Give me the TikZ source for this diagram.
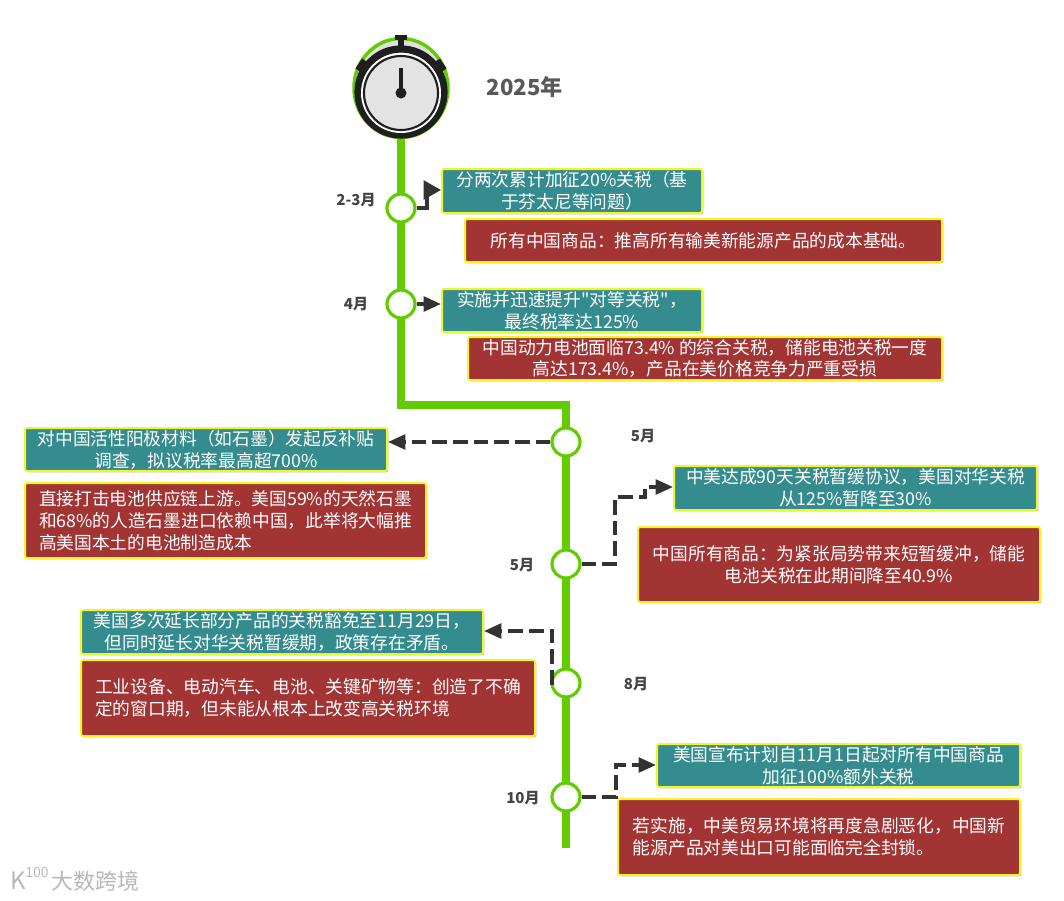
\documentclass[tikz,border=0pt]{standalone}
\usepackage{fontspec}
\setmainfont[Ligatures=TeXReset]{Noto Sans CJK SC}
\usetikzlibrary{arrows.meta,shadows}
\definecolor{tealbox}{HTML}{358C8E}
\definecolor{redbox}{HTML}{A23434}
\definecolor{edgey}{HTML}{F2F52A}
\definecolor{tline}{HTML}{62CC00}
\definecolor{conn}{HTML}{333333}
\definecolor{lbl}{HTML}{444444}
\tikzset{
  x=0.75pt,y=-0.75pt,
  msg/.style={draw=edgey,line width=1.5pt,rounded corners=1.5pt,text=white,align=center,inner sep=0pt,
    font=\fontsize{13.3pt}{16.4pt}\selectfont,drop shadow={shadow xshift=1pt,shadow yshift=-1pt,fill=black,opacity=0.25}},
  tealmsg/.style={msg,fill=tealbox},
  redmsg/.style={msg,fill=redbox},
  track/.style={draw=tline,line width=5.4pt},
  stop/.style={circle,draw=tline,line width=2.4pt,fill=white,minimum size=21pt,inner sep=0pt},
  link/.style={draw=conn,line width=2.6pt,-{Triangle[length=13pt,width=11pt]}},
  dlink/.style={link,dash pattern=on 11pt off 4.5pt},
  month/.style={font=\fontsize{11.3pt}{13pt}\selectfont\bfseries,text=lbl,inner sep=0pt},
}
\begin{document}
\begin{tikzpicture}
\useasboundingbox (0,0) rectangle (1064,900);
\fill[white] (0,0) rectangle (1064,900);
% coordinates
\coordinate (tstart) at (401,135);
\coordinate (tbend1) at (401,405);
\coordinate (tbend2) at (566,405);
\coordinate (tend) at (566,848);
\draw[track,line join=miter] (tstart) -- (tbend1) -- (tbend2) -- (tend);
% watch
\fill[black!12] (401,88) ellipse [x radius=47,y radius=49.5];
\draw[tline,line width=2.6pt] (401,88) ellipse [x radius=47,y radius=49.5];
\fill[black!88] (395,35) rectangle (407,40);
\fill[black!88] (398,40) rectangle (404,46);
\fill[black!88] (394,46) -- (408,46) -- (410,50) -- (392,50) -- cycle;
\fill[black!88,rotate around={-56:(401,92)}] (395,41) rectangle (407,51);
\fill[black!88,rotate around={56:(401,92)}] (395,41) rectangle (407,51);
\draw[black!88,line width=5.4pt] (401,92) circle [radius=43];
\fill[white] (401,93) circle [radius=40];
\draw[black!88,line width=1.6pt,fill=black!11] (401,93) circle [radius=37];
\draw[black!88,line width=3.2pt] (401,68) -- (401,92);
\fill[black!88] (401,93) circle [radius=5.5];
\node[font=\fontsize{16.6pt}{19pt}\selectfont\bfseries,text=black!65,inner sep=0pt] (year) at (525,87) {2025年};
% stops
\node[stop] (s1) at (401,208) {};
\node[stop] (s2) at (401,304) {};
\node[stop] (s3) at (566,442) {};
\node[stop] (s4) at (566,564) {};
\node[stop] (s5) at (566,683) {};
\node[stop] (s6) at (566,797) {};
% months
\node[month] (m1) at (356,200) {2-3月};
\node[month] (m2) at (356,304) {4月};
\node[month] (m3) at (643,436) {5月};
\node[month] (m4) at (522,565) {5月};
\node[month] (m5) at (636,684) {8月};
\node[month] (m6) at (523,798) {10月};
% messages
\node[tealmsg,minimum width=195pt,minimum height=33pt] (t1) at (572,191) {分两次累计加征20\%关税（基\\于芬太尼等问题）};
\node[redmsg,minimum width=357.75pt,minimum height=32.25pt] (r1) at (703.5,240.5) {所有中国商品：推高所有输美新能源产品的成本基础。};
\node[tealmsg,minimum width=195pt,minimum height=32.25pt] (t2) at (572,310.5) {实施并迅速提升"对等关税"，\\最终税率达125\%};
\node[redmsg,minimum width=355.5pt,minimum height=32.25pt] (r2) at (705,358.5) {中国动力电池面临73.4\% 的综合关税，储能电池关税一度\\高达173.4\%，产品在美价格竞争力严重受损};
\node[tealmsg,minimum width=271.5pt,minimum height=32.25pt] (t3) at (206,449.5) {对中国活性阳极材料（如石墨）发起反补贴\\调查，拟议税率最高超700\%};
\node[redmsg,minimum width=300.75pt,minimum height=56.25pt,align=left] (r3) at (225.5,520.5) {直接打击电池供应链上游。美国59\%的天然石墨\\和68\%的人造石墨进口依赖中国，此举将大幅推\\高美国本土的电池制造成本};
\node[tealmsg,minimum width=272.25pt,minimum height=33pt] (t4) at (855.5,488) {中美达成90天关税暂缓协议，美国对华关税\\从125\%暂降至30\%};
\node[redmsg,minimum width=301.5pt,minimum height=56.25pt] (r4) at (839,564.5) {中国所有商品：为紧张局势带来短暂缓冲，储能\\电池关税在此期间降至40.9\%};
\node[tealmsg,minimum width=301.5pt,minimum height=33pt] (t5) at (282,632) {美国多次延长部分产品的关税豁免至11月29日，\\但同时延长对华关税暂缓期，政策存在矛盾。};
\node[redmsg,minimum width=340.5pt,minimum height=57pt,align=left] (r5) at (308,698) {工业设备、电动汽车、电池、关键矿物等：创造了不确\\定的窗口期，但未能从根本上改变高关税环境};
\node[tealmsg,minimum width=272.25pt,minimum height=32.25pt] (t6) at (838.5,765.5) {美国宣布计划自11月1日起对所有中国商品\\加征100\%额外关税};
\node[redmsg,minimum width=301.5pt,minimum height=57pt,align=left] (r6) at (819,837) {若实施，中美贸易环境将再度急剧恶化，中国新\\能源产品对美出口可能面临完全封锁。};
% connectors
\coordinate (c1a) at (427,208);
\coordinate (c1b) at (427,190);
\draw[link,-{Triangle[length=13pt,width=14pt]}] (s1) -- (c1a) -- (c1b) -- (t1.west |- c1b);
\draw[link] (s2) -- (t2.west |- s2);
\draw[dlink] (s3) -- (t3.east |- s3);
\coordinate (c4a) at (615,564);
\coordinate (c4b) at (615,497);
\coordinate (c4c) at (645,497);
\coordinate (c4d) at (645,487);
\draw[dlink] (s4) -- (c4a) -- (c4b) -- (c4c) -- (c4d) -- (t4.west |- c4d);
\coordinate (c5a) at (552,683);
\coordinate (c5b) at (552,631);
\draw[dlink] (s5) -- (c5a) -- (c5b) -- (t5.east |- c5b);
\coordinate (c6a) at (616,797);
\coordinate (c6b) at (616,765);
\draw[dlink] (s6) -- (c6a) -- (c6b) -- (t6.west |- c6b);
% watermark
\node[font=\fontsize{18pt}{20pt}\selectfont,text=black!28,inner sep=0pt] (wm0) at (18,881) {K};
\node[font=\fontsize{10.5pt}{12pt}\selectfont,text=black!28,inner sep=0pt] (wm1) at (37,872) {100};
\node[font=\fontsize{16.5pt}{18pt}\selectfont,text=black!28,inner sep=0pt] (wm2) at (95,881) {大数跨境};
\end{tikzpicture}
\end{document}
